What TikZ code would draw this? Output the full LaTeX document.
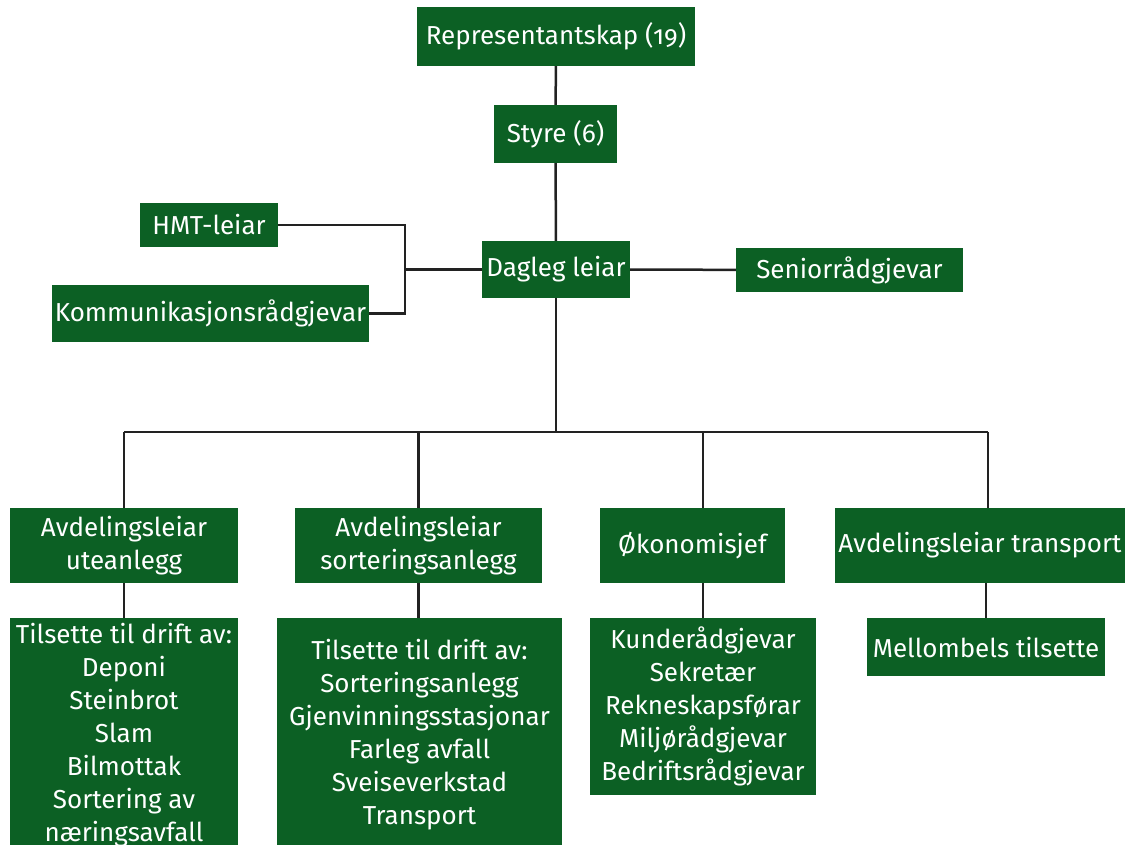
\documentclass[tikz,border=0pt]{standalone}
\usepackage{fontspec}
\setmainfont{Fira Sans}[Numbers=OldStyle]
\usepackage{tikz}

\definecolor{orggreen}{RGB}{12,96,36}
\definecolor{orgline}{RGB}{34,34,34}

\tikzset{
  orgbox/.style={fill=orggreen, text=white, inner sep=0pt, align=center,
    font=\fontsize{26}{33}\selectfont},
  orgline/.style={draw=orgline, line width=2.5pt}
}

\begin{document}
\begin{tikzpicture}[x=1pt,y=-1pt]
\useasboundingbox (0,0) rectangle (1125,845);
\clip (0,0) rectangle (1125,845);
% top of the chart
\node [orgbox, minimum width=278pt, minimum height=59pt] (rep) at (556,36.5) {Representantskap (19)};
\node [orgbox, minimum width=123pt, minimum height=58pt] (styre) at (555.5,134) {Styre (6)};
\node [orgbox, minimum width=148pt, minimum height=57pt] (dagleg) at (556,269.5) {Dagleg leiar};
\node [orgbox, minimum width=138pt, minimum height=44pt] (hmt) at (209,225) {HMT-leiar};
\node [orgbox, minimum width=317pt, minimum height=57pt] (komm) at (210.5,313.5) {Kommunikasjonsrådgjevar};
\node [orgbox, minimum width=227pt, minimum height=44pt] (senior) at (849.5,270) {Seniorrådgjevar};
% departments
\node [orgbox, minimum width=228pt, minimum height=75pt] (ute) at (124,545.5) {Avdelingsleiar\\uteanlegg};
\node [orgbox, minimum width=247pt, minimum height=75pt] (sort) at (418.5,545.5) {Avdelingsleiar\\sorteringsanlegg};
\node [orgbox, minimum width=185pt, minimum height=75pt] (oko) at (692.5,545.5) {Økonomisjef};
\node [orgbox, minimum width=290pt, minimum height=75pt] (transp) at (980,545.5) {Avdelingsleiar transport};
% staff
\node [orgbox, anchor=north, minimum width=228pt, minimum height=233pt] (uteliste) at (124,618) {Tilsette til drift av:\\Deponi\\Steinbrot\\Slam\\Bilmottak\\Sortering av\\næringsavfall};
\node [orgbox, anchor=north, minimum width=285pt, minimum height=233pt] (sortliste) at (419.5,618) {Tilsette til drift av:\\Sorteringsanlegg\\Gjenvinningsstasjonar\\Farleg avfall\\Sveiseverkstad\\Transport};
\node [orgbox, anchor=north, minimum width=226pt, minimum height=177pt] (okoliste) at (703,618) {Kunderådgjevar\\Sekretær\\Rekneskapsførar\\Miljørådgjevar\\Bedriftsrådgjevar};
\node [orgbox, anchor=north, minimum width=238pt, minimum height=58pt] (mellom) at (986,618) {Mellombels tilsette};
% connectors
\coordinate (brk) at (405,269.5);
\coordinate (busL) at (124,432);
\coordinate (busR) at (988,432);
\draw [orgline] (rep) -- (styre);
\draw [orgline] (styre) -- (dagleg);
\draw [orgline] (dagleg) -- (senior);
\draw [orgline] (hmt.east) -| (brk |- komm.east) -- (komm.east);
\draw [orgline] (brk) -- (dagleg.west);
\draw [orgline] (busL) -- (busR);
\draw [orgline] (dagleg.south) -- (dagleg.south |- busL);
\draw [orgline] (busL) -- (ute.north);
\draw [orgline] (sort.north |- busL) -- (sort.north);
\draw [orgline] (703,432) -- (oko.north -| 703,0);
\draw [orgline] (busR) -- (transp.north -| busR);
\draw [orgline] (ute) -- (uteliste);
\draw [orgline] (sort.south) -- (sort.south |- sortliste.north);
\draw [orgline] (oko.south -| okoliste.north) -- (okoliste.north);
\draw [orgline] (transp.south -| mellom.north) -- (mellom.north);
\end{tikzpicture}
\end{document}
